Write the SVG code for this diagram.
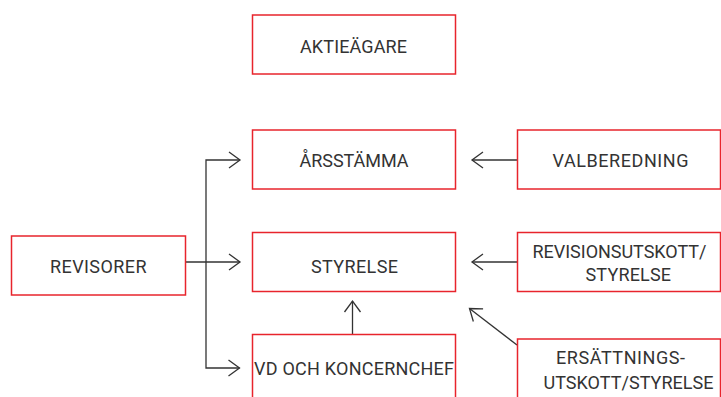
<svg xmlns="http://www.w3.org/2000/svg" width="721" height="397" viewBox="0 0 721 397">
<style>
.box{fill:#fff;stroke:#e8242c;stroke-width:1.5}
.lbl{font-family:Roboto,"Liberation Sans",sans-serif;font-size:18px;fill:#333}
.c{fill:none;stroke:#333;stroke-width:1.3}
</style>
<defs>
<marker id="ah" markerUnits="userSpaceOnUse" markerWidth="30" markerHeight="30" refX="0" refY="0" viewBox="-15 -15 30 30" orient="auto" overflow="visible">
<path d="M-11,-8 L0,0 L-11,8" fill="none" stroke="#333" stroke-width="1.3"/>
</marker>
</defs>
<rect width="721" height="397" fill="#fff"/>
<g id="connectors">
<path class="c" d="M185.5,262 H240" marker-end="url(#ah)"/>
<path class="c" d="M206,262 V160 H240" marker-end="url(#ah)"/>
<path class="c" d="M206,262 V368 H239.5" marker-end="url(#ah)"/>
<path class="c" d="M517.5,160 H472" marker-end="url(#ah)"/>
<path class="c" d="M517.5,262 H472" marker-end="url(#ah)"/>
<path class="c" d="M352.5,334.5 V301" marker-end="url(#ah)"/>
<path class="c" d="M517,345 L469.5,308.5" marker-end="url(#ah)"/>
</g>
<g id="aktieagare">
<rect class="box" x="252.5" y="15" width="203" height="59"/>
<text class="lbl" x="300" y="52.5" textLength="107">AKTIEÄGARE</text>
</g>
<g id="arsstamma">
<rect class="box" x="252.5" y="130" width="203" height="59"/>
<text class="lbl" x="299.5" y="167" textLength="109">ÅRSSTÄMMA</text>
</g>
<g id="styrelse">
<rect class="box" x="252.5" y="232.5" width="203" height="59"/>
<text class="lbl" x="311" y="272.5" textLength="87">STYRELSE</text>
</g>
<g id="vd">
<rect class="box" x="252.5" y="334.5" width="203" height="80"/>
<text class="lbl" x="254" y="375" textLength="200">VD OCH KONCERNCHEF</text>
</g>
<g id="revisorer">
<rect class="box" x="11.5" y="236" width="174" height="59"/>
<text class="lbl" x="50" y="272.5" textLength="96.5">REVISORER</text>
</g>
<g id="valberedning">
<rect class="box" x="517.5" y="130" width="203" height="59"/>
<text class="lbl" x="552.5" y="167" textLength="136">VALBEREDNING</text>
</g>
<g id="revisionsutskott">
<rect class="box" x="517.5" y="232.5" width="203" height="59"/>
<text class="lbl" x="532.5" y="257.5" textLength="174">REVISIONSUTSKOTT/</text>
<text class="lbl" x="585.5" y="281" textLength="85.5">STYRELSE</text>
</g>
<g id="ersattningsutskott">
<rect class="box" x="517.5" y="339" width="203" height="80"/>
<text class="lbl" x="556" y="363.5" textLength="129">ERSÄTTNINGS-</text>
<text class="lbl" x="543.5" y="388.5" textLength="170">UTSKOTT/STYRELSE</text>
</g>
</svg>
